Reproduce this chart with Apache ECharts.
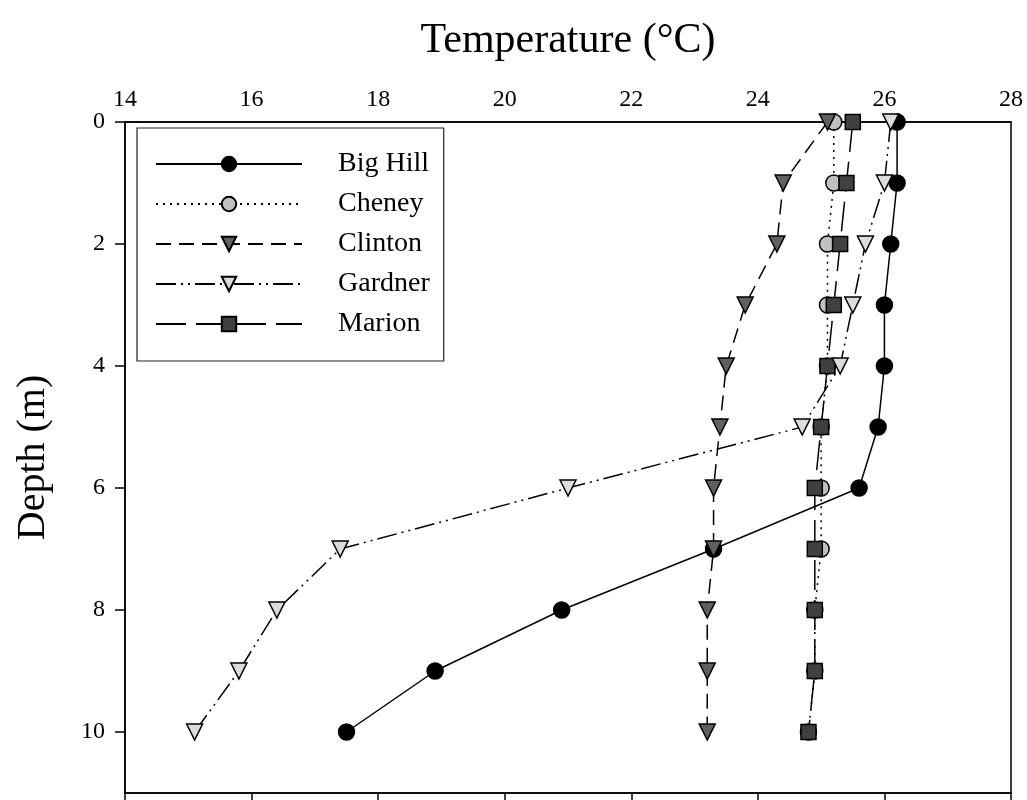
<!DOCTYPE html>
<html>
<head>
<meta charset="utf-8">
<script src="https://cdn.jsdelivr.net/npm/echarts@6/dist/echarts.min.js"></script>
<style>html,body{margin:0;padding:0;background:#fff}#chart{width:1027px;height:800px}</style>
</head>
<body>
<div id="chart"></div>
<script>
const depths = [0, 1, 2, 3, 4, 5, 6, 7, 8, 9, 10];
const bigHill = [26.2, 26.2, 26.1, 26.0, 26.0, 25.9, 25.6, 23.3, 20.9, 18.9, 17.5];
const cheney  = [25.2, 25.2, 25.1, 25.1, 25.1, 25.0, 25.0, 25.0, 24.9, 24.9, 24.8];
const clinton = [25.1, 24.4, 24.3, 23.8, 23.5, 23.4, 23.3, 23.3, 23.2, 23.2, 23.2];
const gardner = [26.1, 26.0, 25.7, 25.5, 25.3, 24.7, 21.0, 17.4, 16.4, 15.8, 15.1];
const marion  = [25.5, 25.4, 25.3, 25.2, 25.1, 25.0, 24.9, 24.9, 24.9, 24.9, 24.8];
const seriesNames = ['Big Hill', 'Cheney', 'Clinton', 'Gardner', 'Marion'];
const depthTicks = [0, 2, 4, 6, 8, 10];

const FONT = 'Liberation Serif';
function pairs(vals) { return vals.map((v, i) => [v, depths[i]]); }

const styles = {
  'Big Hill': {data: bigHill, symbol: 'circle', fill: '#000000', line: 'solid', z: 2, rot: 0},
  'Cheney':   {data: cheney, symbol: 'circle', fill: '#c0c0c0', line: [2, 5], z: 3, rot: 0},
  'Clinton':  {data: clinton, symbol: 'triangle', fill: '#606060', line: [15, 8], z: 5, rot: 180},
  'Gardner':  {data: gardner, symbol: 'triangle', fill: '#dcdcdc', line: [20, 5, 2, 5, 2, 5], z: 6, rot: 180},
  'Marion':   {data: marion, symbol: 'rect', fill: '#404040', line: [30, 10], z: 4, rot: 0}
};

const series = seriesNames.map(name => {
  const s = styles[name];
  return {
    name: name,
    type: 'line',
    xAxisIndex: 0,
    yAxisIndex: 0,
    data: pairs(s.data),
    symbol: s.symbol,
    symbolSize: s.symbol === 'rect' ? 15 : 16,
    symbolRotate: s.rot,
    z: s.z,
    lineStyle: {color: '#000', width: 1.5, type: s.line},
    itemStyle: {color: s.fill, borderColor: '#000', borderWidth: 1.5},
    emphasis: {disabled: true},
    animation: false
  };
});

const chart = echarts.init(document.getElementById('chart'), null, {renderer: 'canvas'});
chart.setOption({
  backgroundColor: '#fff',
  animation: false,
  grid: {left: 125, right: 16, top: 122, bottom: 7, show: true, borderColor: '#000', borderWidth: 1.5, containLabel: false},
  legend: {
    data: seriesNames,
    orient: 'vertical',
    left: 137, top: 128,
    padding: [22, 14, 23, 18],
    itemGap: 12,
    itemWidth: 146,
    itemHeight: 18,
    borderColor: '#222', borderWidth: 1.2,
    backgroundColor: '#fff',
    textStyle: {fontFamily: FONT, fontSize: 28, color: '#000', padding: [0, 0, 0, 31], lineHeight: 26},
    selectedMode: false
  },
  xAxis: [
    {
      type: 'value', position: 'top', min: 14, max: 28, interval: 2,
      name: 'Temperature (°C)', nameLocation: 'middle', nameGap: 60,
      nameTextStyle: {fontFamily: FONT, fontSize: 42, color: '#000'},
      axisLine: {show: true, lineStyle: {color: '#000', width: 1.5}},
      axisTick: {show: false},
      axisLabel: {fontFamily: FONT, fontSize: 24, color: '#000', margin: 10},
      splitLine: {show: false}
    },
    {
      type: 'value', position: 'bottom', min: 14, max: 28, interval: 2,
      axisLine: {show: true, lineStyle: {color: '#000', width: 1.5}},
      axisTick: {show: true, inside: false, length: 10, lineStyle: {color: '#000', width: 1.5}},
      axisLabel: {show: false},
      splitLine: {show: false}
    }
  ],
  yAxis: [
    {
      type: 'value', inverse: true, min: 0, max: 11, interval: 1,
      name: 'Depth (m)', nameLocation: 'middle', nameGap: 72, nameRotate: 90,
      nameTextStyle: {fontFamily: FONT, fontSize: 40, color: '#000'},
      axisLine: {show: true, lineStyle: {color: '#000', width: 1.5}},
      axisTick: {show: true, length: 10, lineStyle: {color: '#000', width: 1.5}, customValues: depthTicks},
      axisLabel: {fontFamily: FONT, fontSize: 24, color: '#000', margin: 20, customValues: depthTicks},
      splitLine: {show: false}
    }
  ],
  series: series
});
</script>
</body>
</html>
